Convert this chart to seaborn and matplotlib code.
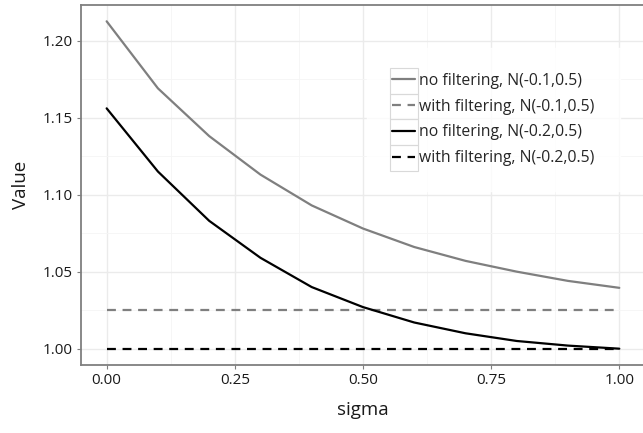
import numpy as np
import pandas as pd
import matplotlib
matplotlib.use("Agg")
import matplotlib.pyplot as plt
from matplotlib.patches import Rectangle
import seaborn as sns

sigma = [0.0, 0.1, 0.2, 0.3, 0.4, 0.5, 0.6, 0.7, 0.8, 0.9, 1.0]
no_filt_01 = [1.2125, 1.169, 1.138, 1.113, 1.093, 1.078, 1.066, 1.057, 1.050, 1.044, 1.0395]
with_filt_01 = [1.025] * 11
no_filt_02 = [1.156, 1.115, 1.083, 1.059, 1.040, 1.027, 1.017, 1.010, 1.005, 1.002, 1.000]
with_filt_02 = [1.000] * 11

names = ["no filtering, N(-0.1,0.5)", "with filtering, N(-0.1,0.5)",
         "no filtering, N(-0.2,0.5)", "with filtering, N(-0.2,0.5)"]
series = [no_filt_01, with_filt_01, no_filt_02, with_filt_02]

rows = []
for n, vals in zip(names, series):
    for s, v in zip(sigma, vals):
        rows.append({"sigma": s, "Value": v, "series": n})
df = pd.DataFrame(rows)

sns.set_theme(style="white")
plt.rcParams['font.family'] = ['Open Sans', 'DejaVu Sans']

fig = plt.figure(figsize=(6.43, 4.33), dpi=100)
ax = fig.add_axes([0.126, 0.157, 0.877, 0.8315])

palette = {names[0]: "#7f7f7f", names[1]: "#7f7f7f", names[2]: "black", names[3]: "black"}
dashes = {names[0]: "", names[1]: (4, 3), names[2]: "", names[3]: (4, 3)}

sns.lineplot(data=df, x="sigma", y="Value", hue="series", style="series",
             palette=palette, dashes=dashes, hue_order=names, style_order=names,
             linewidth=1.6, ax=ax, legend=True)

ax.set_xlim(-0.05, 1.05)
ax.set_ylim(0.9894, 1.2231)
ax.set_xticks([0.0, 0.25, 0.5, 0.75, 1.0])
ax.set_xticklabels(["0.00", "0.25", "0.50", "0.75", "1.00"])
ax.set_yticks([1.00, 1.05, 1.10, 1.15, 1.20])
ax.set_yticklabels(["1.00", "1.05", "1.10", "1.15", "1.20"])
ax.set_xticks([0.125, 0.375, 0.625, 0.875], minor=True)
ax.set_yticks([1.025, 1.075, 1.125, 1.175], minor=True)
ax.grid(True, which="major", color="#ebebeb", linewidth=1.0)
ax.grid(True, which="minor", color="#f5f5f5", linewidth=0.6)
ax.set_axisbelow(True)
for sp in ax.spines.values():
    sp.set_color("#7f7f7f")
    sp.set_linewidth(1.3)
ax.tick_params(axis="both", which="major", length=3, width=0.8, color="#7f7f7f",
               labelsize=11, labelcolor="#1a1a1a", pad=3, bottom=True, left=True)
ax.tick_params(axis="both", which="minor", length=0)
ax.set_xlabel("sigma", fontsize=13.5, labelpad=9, color="#1a1a1a")
ax.set_ylabel("Value", fontsize=13.5, labelpad=9, color="#1a1a1a")

leg = ax.legend(loc="center", bbox_to_anchor=(0.731, 0.682), title=None,
                frameon=True, fontsize=11.3, handlelength=1.5, handletextpad=0.25,
                labelspacing=0.62, borderpad=1.6, fancybox=False)
leg.get_frame().set_facecolor("white")
leg.get_frame().set_edgecolor("white")
for h in leg.get_lines():
    h.set_linewidth(1.6)

# key boxes around legend handles
fig.canvas.draw()
inv = fig.transFigure.inverted()
texts = leg.get_texts()
tb = [t.get_window_extent() for t in texts]
row_h = (tb[0].y0 + tb[0].y1) / 2 - (tb[1].y0 + tb[1].y1) / 2
for h, b in zip(leg.get_lines(), tb):
    hb = h.get_window_extent()
    x0 = hb.x0 - 2
    x1 = b.x0 - 1
    yc = (b.y0 + b.y1) / 2
    (fx0, fy0) = inv.transform((x0, yc - row_h / 2))
    (fx1, fy1) = inv.transform((x1, yc + row_h / 2))
    fig.patches.append(Rectangle((fx0, fy0), fx1 - fx0, fy1 - fy0,
                                 transform=fig.transFigure, fill=False,
                                 edgecolor="#d9d9d9", linewidth=0.8, zorder=10))

fig.savefig("out.png", dpi=100)
